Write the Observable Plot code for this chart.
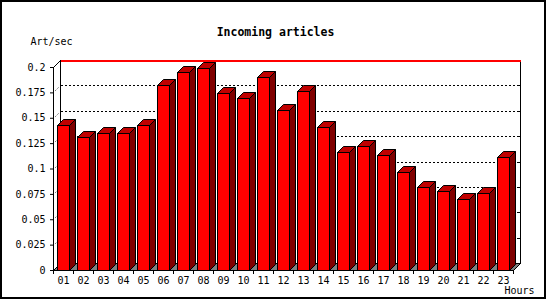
<!DOCTYPE html>
<html><head><meta charset="utf-8">
<script src="https://cdn.jsdelivr.net/npm/d3@7"></script>
<script src="https://cdn.jsdelivr.net/npm/@observablehq/plot@0.6"></script>
<style>
body{margin:0;background:#fff;}
#wrap{position:relative;width:550px;height:300px;overflow:hidden;}
#border{position:absolute;left:0;top:0;width:546px;height:299px;box-sizing:border-box;border:2px solid #000;pointer-events:none;}
</style></head><body>
<div id="wrap"><div id="border"></div></div>
<script>
const hours = ["01","02","03","04","05","06","07","08","09","10","11","12","13","14","15","16","17","18","19","20","21","22","23"];
const artPerSec = [0.143,0.131,0.135,0.135,0.143,0.182,0.195,0.199,0.174,0.169,0.190,0.158,0.176,0.141,0.116,0.122,0.113,0.097,0.082,0.078,0.070,0.076,0.111];
const yTicks = [0,0.025,0.05,0.075,0.1,0.125,0.15,0.175,0.2];
const yTickLabels = ["0","0.025","0.05","0.075","0.1","0.125","0.15","0.175","0.2"];
const title = "Incoming articles";
const yTitle = "Art/sec";
const xTitle = "Hours";

const FONT = "DejaVu Sans Mono";
const WALL = 7;   // depth of back wall (px)
const DEPTH = 6;  // depth of bar (px)

function backWall(index, scales) {
  const x = scales.x, y = scales.y;
  const g = d3.create("svg:g").attr("shape-rendering", "crispEdges");
  const xa = Math.round(x(0)) + 0.5, xb = Math.round(x(hours.length)) + 0.5;
  const y0 = Math.round(y(0)) + 0.5, yT = Math.round(y(yTicks[yTicks.length - 1])) + 0.5;
  // floor
  g.append("path")
    .attr("d", `M${xa},${y0}L${xb},${y0}L${xb + WALL},${y0 - WALL}L${xa + WALL},${y0 - WALL}Z`)
    .attr("fill", "#808080").attr("stroke", "#000");
  // back wall
  g.append("rect").attr("x", xa + WALL).attr("y", yT - WALL)
    .attr("width", xb - xa).attr("height", y0 - yT)
    .attr("fill", "#fff").attr("stroke", "#000");
  for (const v of yTicks) {
    const yy = Math.round(y(v)) + 0.5;
    if (v > 0 && v < yTicks[yTicks.length - 1]) {
      g.append("line").attr("x1", xa + WALL).attr("x2", xb + WALL)
        .attr("y1", yy - WALL).attr("y2", yy - WALL)
        .attr("stroke", "#000").attr("stroke-dasharray", "2,2");
      g.append("line").attr("x1", xa + 2).attr("x2", xa + WALL - 2)
        .attr("y1", yy - 2).attr("y2", yy - WALL + 2)
        .attr("stroke", "#000").attr("stroke-dasharray", "1,2").attr("shape-rendering", "auto");
      g.append("line").attr("x1", xb + WALL - 3).attr("x2", xb + WALL)
        .attr("y1", yy - WALL).attr("y2", yy - WALL).attr("stroke", "#000");
    }
  }
  // top edge red
  g.append("line").attr("x1", xa + WALL).attr("x2", xb + WALL)
    .attr("y1", yT - WALL + 0.5).attr("y2", yT - WALL + 0.5).attr("stroke", "#ff0000").attr("stroke-width", 2);
  // left wall diagonal
  g.append("line").attr("x1", xa).attr("y1", yT).attr("x2", xa + WALL).attr("y2", yT - WALL)
    .attr("stroke", "#000").attr("shape-rendering", "auto");
  return g.node();
}

function bars3d(index, scales) {
  const x = scales.x, y = scales.y;
  const g = d3.create("svg:g").attr("shape-rendering", "crispEdges").attr("stroke", "#000");
  artPerSec.forEach((v, i) => {
    const xa = Math.round(x(i + 0.22)) + 0.5, xb = Math.round(x(i + 0.81)) + 0.5;
    const yb = Math.round(y(0)) + 0.5, yt = Math.round(y(v)) + 0.5;
    g.append("path")
      .attr("d", `M${xb},${yt}L${xb + DEPTH},${yt - DEPTH}L${xb + DEPTH},${yb - DEPTH}L${xb},${yb}Z`)
      .attr("fill", "#800000").attr("shape-rendering", "auto");
    g.append("path")
      .attr("d", `M${xa},${yt}L${xa + DEPTH},${yt - DEPTH}L${xb + DEPTH},${yt - DEPTH}L${xb},${yt}Z`)
      .attr("fill", "#c00000").attr("shape-rendering", "auto");
    g.append("rect").attr("x", xa).attr("y", yt).attr("width", xb - xa).attr("height", yb - yt)
      .attr("fill", "#ff0000");
  });
  return g.node();
}

const chart = Plot.plot({
  width: 550,
  height: 300,
  marginLeft: 53,
  marginRight: 37,
  marginTop: 67,
  marginBottom: 30,
  style: {fontFamily: FONT, fontSize: "10px", background: "#fff", color: "#000"},
  x: {type: "linear", domain: [0, hours.length], axis: null},
  y: {domain: [0, yTicks[yTicks.length - 1]], axis: null},
  marks: [
    backWall,
    bars3d,
    Plot.ruleX([0], {y1: 0, y2: yTicks[yTicks.length - 1], stroke: "#000"}),
    Plot.ruleY([0], {x1: 0, x2: hours.length, stroke: "#000"}),
    Plot.axisY({ticks: yTicks, tickSize: 3, tickPadding: 5, label: null,
      tickFormat: d => yTickLabels[yTicks.indexOf(d)], fontFamily: FONT, fontSize: 10, stroke: "#000"}),
    Plot.axisX({ticks: d3.range(hours.length + 1), tickSize: 4, tickFormat: () => "", label: null, stroke: "#000"}),
    Plot.axisX({ticks: hours.map((h, i) => i + 0.5), tickSize: 0, tickPadding: 6, label: null,
      tickFormat: d => hours[Math.floor(d)], fontFamily: FONT, fontSize: 10}),
    Plot.text([title], {frameAnchor: "top", dx: -8, dy: -40, text: d => d,
      fontFamily: FONT, fontSize: 11.5, fontWeight: "bold", fill: "#000"}),
    Plot.text([yTitle], {frameAnchor: "top-left", dx: -23, dy: -30, text: d => d, textAnchor: "start",
      fontFamily: FONT, fontSize: 10, fill: "#000"}),
    Plot.text([xTitle], {frameAnchor: "bottom-right", dx: -9, dy: 23.5, text: d => d, textAnchor: "start",
      fontFamily: FONT, fontSize: 10, fill: "#000"})
  ]
});
document.getElementById("wrap").prepend(chart);
</script>
</body></html>
